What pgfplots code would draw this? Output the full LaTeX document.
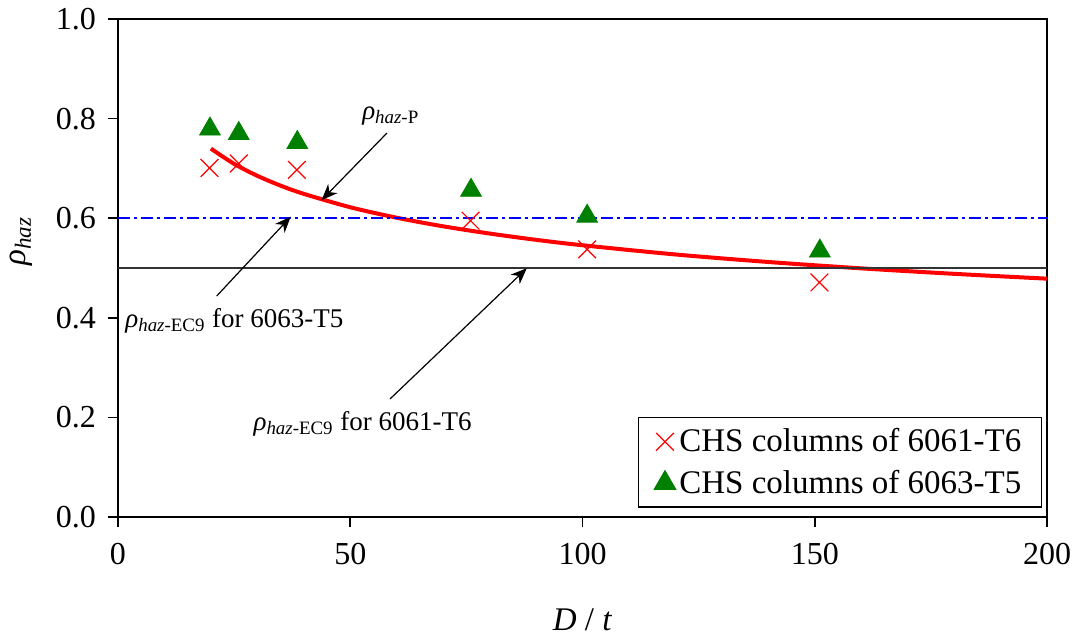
\documentclass[border=0pt]{standalone}
\usepackage{fontspec}
\setmainfont{Liberation Serif}
\usepackage{pgfplots}
\pgfplotsset{compat=1.18}
\usetikzlibrary{arrows.meta}
\definecolor{mkgreen}{HTML}{008000}
\newcommand{\rh}[1]{\textit{ρ}\textsubscript{\textit{haz}#1}}

\begin{document}
\begin{tikzpicture}
\begin{axis}[
  at={(0,0)}, anchor=south west,
  scale only axis, width=464.5pt, height=249pt,
  xmin=0, xmax=200, ymin=0, ymax=1,
  xtick={0,50,100,150,200},
  ytick={0,0.2,0.4,0.6,0.8,1.0},
  tick pos=left, tick align=outside, major tick length=5pt,
  axis line style={line width=0.9pt},
  tick style={black, line width=0.8pt},
  /pgf/number format/assume math mode=true,
  ticklabel style={font=\fontsize{16}{19}\selectfont},
  yticklabel style={/pgf/number format/fixed, /pgf/number format/fixed zerofill,
    /pgf/number format/precision=1, xshift=-2.5pt},
  xticklabel style={yshift=-4.5pt},
  xlabel={\textit{D} / \textit{t}},
  ylabel={\rh{}},
  label style={font=\fontsize{16.5}{20}\selectfont},
  xlabel style={at={(axis description cs:0.5,-0.207)}, anchor=center},
  ylabel style={at={(axis description cs:-0.104,0.554)}, anchor=center},
  legend style={at={(0.9946,0.2008)}, anchor=north east, draw=black, line width=0.7pt,
    font=\fontsize{16.5}{20}\selectfont, inner xsep=8pt, inner ysep=3.5pt, row sep=3.5pt},
  legend cell align=left,
]
% fitted curve rho_haz-P
\addplot[red, line width=2pt, smooth, forget plot] coordinates {
  (20,0.7397) (25,0.7091) (30,0.6851) (35,0.6654) (40,0.6489) (50,0.6220)
  (60,0.6010) (70,0.5837) (80,0.5692) (90,0.5566) (100,0.5457) (120,0.5272)
  (140,0.5121) (160,0.4993) (180,0.4883) (200,0.4786)};
% EC9 values
\addplot[blue, line width=1.2pt, dash pattern=on 6pt off 2pt on 1.5pt off 2pt, forget plot]
  coordinates {(0,0.6) (200,0.6)};
\addplot[black!80, line width=0.9pt, forget plot] coordinates {(0,0.5) (200,0.5)};
% test results
\addplot[only marks, mark=x, mark size=6.25pt, red, mark options={line width=0.6pt}]
  coordinates {(19.7,0.701) (26.0,0.710) (38.5,0.697) (75.9,0.595) (101.0,0.5375) (151.0,0.471)};
\addlegendentry{CHS columns of 6061-T6}
\addplot[only marks, mark=triangle*, mark size=6pt, mkgreen, mark options={draw=mkgreen, fill=mkgreen}]
  coordinates {(19.8,0.779) (26.0,0.770) (38.6,0.752) (76.0,0.656) (101.0,0.604) (151.1,0.534)};
\addlegendentry{CHS columns of 6063-T5}
% annotations
\draw[line width=0.6pt, -{Stealth[length=8pt, width=6.5pt, inset=2.5pt]}]
  (axis cs:57.9,0.771) -- (axis cs:43.85,0.6365);
\draw[line width=0.6pt, -{Stealth[length=8pt, width=6.5pt, inset=2.5pt]}]
  (axis cs:21.25,0.4438) -- (axis cs:37.18,0.603);
\draw[line width=0.6pt, -{Stealth[length=8pt, width=6.5pt, inset=2.5pt]}]
  (axis cs:58.56,0.237) -- (axis cs:88.0,0.4994);
\node[anchor=base west, inner sep=0pt, font=\fontsize{13.5}{16}\selectfont] at (axis cs:52.5,0.7986) {\rh{-P}};
\node[anchor=base west, inner sep=0pt, font=\fontsize{13.5}{16}\selectfont] at (axis cs:1.5,0.3815) {\rh{-EC9} for 6063-T5};
\node[anchor=base west, inner sep=0pt, font=\fontsize{13.5}{16}\selectfont] at (axis cs:29.1,0.1747) {\rh{-EC9} for 6061-T6};
\end{axis}
\path (-59pt,-61pt) rectangle (481pt,258.5pt);
\end{tikzpicture}
\end{document}
